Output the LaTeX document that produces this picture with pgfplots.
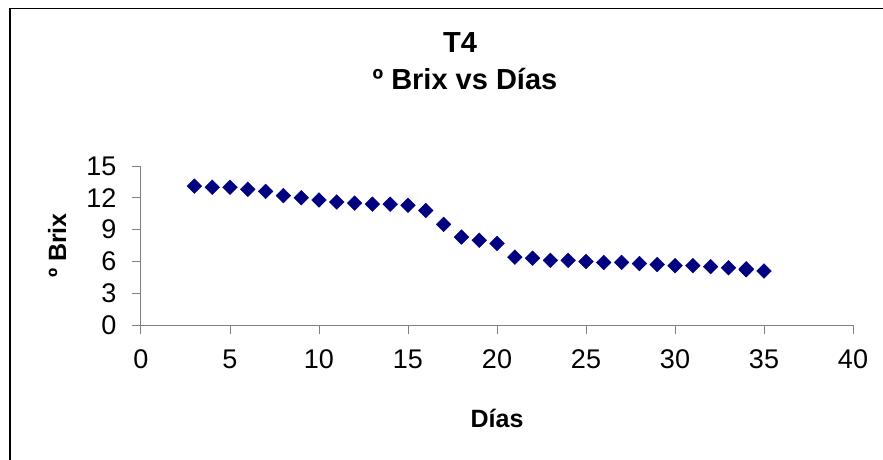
\documentclass[border=0pt]{standalone}
\usepackage{pgfplots}
\pgfplotsset{compat=1.18}
\usepackage{fontspec}
\setmainfont{Liberation Sans}
\definecolor{navyx}{RGB}{0,0,128}
\definecolor{axgray}{RGB}{128,128,128}
\begin{document}
\begin{tikzpicture}[x=1pt,y=1pt]
\useasboundingbox (0,0) rectangle (883,459);
\draw[line width=1.2pt,black] (10,-10) -- (10,450.5) -- (900,450.5);
\node[font=\fontsize{29}{34}\selectfont\bfseries] at (460,416) {T4};
\node[font=\fontsize{29}{34}\selectfont\bfseries] at (465,380) {º Brix vs Días};
\begin{axis}[
  at={(141pt,134pt)}, anchor=origin,
  scale only axis, width=712pt, height=159pt,
  xmin=0, xmax=40, ymin=0, ymax=15,
  xtick={0,5,...,40}, ytick={0,3,...,15},
  axis x line*=bottom, axis y line*=left,
  axis line style={axgray, line width=1pt},
  tick style={axgray, line width=1pt},
  tick align=outside, major tick length=9pt,
  x axis line style={-}, y axis line style={-},
  tick label style={font=\fontsize{27}{32}\selectfont, text=black},
  /pgf/number format/assume math mode=true,
  xticklabel style={yshift=-12pt},
  yticklabel style={xshift=-12pt},
  xlabel={Días}, ylabel={º Brix},
  label style={font=\fontsize{25}{30}\selectfont\bfseries},
  xlabel style={at={(axis description cs:0.5,0)}, anchor=center, yshift=-93pt, xshift=-0pt},
  ylabel style={at={(axis description cs:0,0.5)}, anchor=center, xshift=0pt, yshift=84pt},
  clip=false,
]
\addplot[only marks, mark=square*, mark size=5.2pt, mark options={rotate=45, fill=navyx, draw=navyx}] coordinates {
(3,13.1) (4,13.0) (5,13.0) (6,12.8) (7,12.6) (8,12.2) (9,12.0) (10,11.8)
(11,11.6) (12,11.5) (13,11.4) (14,11.4) (15,11.3) (16,10.8) (17,9.5) (18,8.3)
(19,8.0) (20,7.7) (21,6.4) (22,6.3) (23,6.1) (24,6.1) (25,6.0) (26,5.9)
(27,5.9) (28,5.8) (29,5.7) (30,5.6) (31,5.6) (32,5.5) (33,5.4) (34,5.3) (34,5.2) (35,5.1)
};
\end{axis}
\end{tikzpicture}
\end{document}
